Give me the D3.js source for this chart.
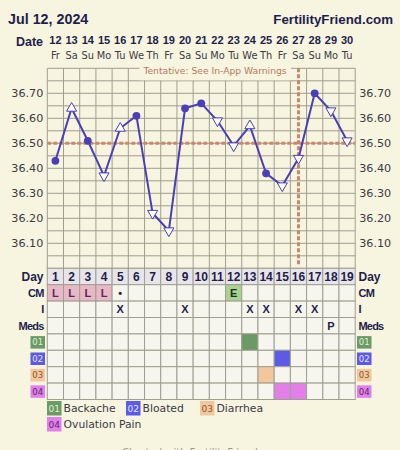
<!DOCTYPE html>
<html><head><meta charset="utf-8">
<script src="https://cdn.jsdelivr.net/npm/d3@7"></script>
<style>html,body{margin:0;padding:0;background:#f7f4df;} svg{display:block}</style>
</head><body><svg id="c" width="400" height="450"></svg>
<script>
// ---------- data ----------
const cycleDays = [1,2,3,4,5,6,7,8,9,10,11,12,13,14,15,16,17,18,19];
const dates = [12,13,14,15,16,17,18,19,20,21,22,23,24,25,26,27,28,29,30];
const weekdays = ["Fr","Sa","Su","Mo","Tu","We","Th","Fr","Sa","Su","Mo","Tu","We","Th","Fr","Sa","Su","Mo","Tu"];
const temps = [36.43,36.64,36.51,36.37,36.56,36.61,36.22,36.15,36.64,36.66,36.59,36.49,36.57,36.38,36.33,36.44,36.70,36.63,36.51];
const markers = ["dot","up","dot","down","up","dot","down","down","dot","dot","down","down","up","dot","down","down","dot","down","down"];
const yTicks = [36.10,36.20,36.30,36.40,36.50,36.60,36.70];
const coverline = 36.50;
const ovulationDay = 16;
const cmValues = ["L","L","L","L","•","","","","","","","E","","","","","","",""];
const intercourse = ["","","","","X","","","","X","","","","X","X","","X","X","",""];
const medsValues = ["","","","","","","","","","","","","","","","","","P",""];
const symptomCodes = ["01","02","03","04"];
const symptomNames = ["Backache","Bloated","Diarrhea","Ovulation Pain"];
const symptomDays = [[13],[15],[14],[15,16]];
const titleText = "Jul 12, 2024";
const siteText = "FertilityFriend.com";
const noteText = "Tentative: See In-App Warnings";

// ---------- styles ----------
const navy = "#1e1e4e";
const lineCol = "#4a3fb6";
const dashCol = "#c9876c";
const gridCol = "#9f9f90";
const symptomFill = ["#6b9b64","#5b5be8","#f2c79b","#e27fe9"];
const symptomText = ["#dff0da","#e4e4ff","#8a5a35","#5a2a6a"];
const bold = "'Liberation Sans', Arial, sans-serif";
const reg = "'DejaVu Sans', Verdana, sans-serif";

const svg = d3.select("#c");
const x = d3.scaleBand().domain(cycleDays).range([47.3, 355.2]).padding(0);
const y = d3.scaleLinear().domain([36.0, 36.8]).range([268.3, 68.3]);
const cx = d => x(d) + x.bandwidth()/2;

svg.append("rect").attr("width",400).attr("height",450).attr("fill","#f7f4df");

// header
svg.append("text").attr("x",8).attr("y",24).attr("font-family",bold).attr("font-weight","bold")
  .attr("font-size",14.3).attr("fill",navy).text(titleText);
svg.append("text").attr("x",393).attr("y",24).attr("text-anchor","end").attr("font-family",bold)
  .attr("font-weight","bold").attr("font-size",13.3).attr("fill",navy).text(siteText);
svg.append("text").attr("x",43).attr("y",46).attr("text-anchor","end").attr("font-family",bold)
  .attr("font-weight","bold").attr("font-size",12.5).attr("fill",navy).text("Date");
svg.append("g").selectAll("text").data(cycleDays).join("text")
  .attr("x",cx).attr("y",43.5).attr("text-anchor","middle").attr("font-family",bold)
  .attr("font-weight","bold").attr("font-size",11).attr("fill",navy).text((d,i)=>dates[i]);
svg.append("g").selectAll("text").data(cycleDays).join("text")
  .attr("x",cx).attr("y",59).attr("text-anchor","middle").attr("font-family",reg)
  .attr("font-size",9.8).attr("fill","#3a3a48").text((d,i)=>weekdays[i]);

// chart grid
const gridG = svg.append("g");
const hLines = d3.range(0,17).map(i => 36.0 + i*0.05);
gridG.selectAll("line.h").data(hLines).join("line")
  .attr("x1",x.range()[0]).attr("x2",x.range()[1]).attr("y1",d=>y(d)).attr("y2",d=>y(d))
  .attr("stroke",gridCol).attr("stroke-width",1);
const vBounds = cycleDays.map(d=>x(d)).concat([x.range()[1]]);
gridG.selectAll("line.v").data(vBounds).join("line")
  .attr("x1",d=>d).attr("x2",d=>d).attr("y1",y(36.8)).attr("y2",y(36.0))
  .attr("stroke",gridCol).attr("stroke-width",1);

// axes
const axL = svg.append("g").attr("transform",`translate(${x.range()[0]},0)`)
  .call(d3.axisLeft(y).tickValues(yTicks).tickFormat(d3.format(".2f")).tickSize(0).tickPadding(4));
const axR = svg.append("g").attr("transform",`translate(${x.range()[1]},0)`)
  .call(d3.axisRight(y).tickValues(yTicks).tickFormat(d3.format(".2f")).tickSize(0).tickPadding(4));
[axL,axR].forEach(a=>{a.select(".domain").remove();
  a.selectAll("text").attr("font-family",reg).attr("font-size",11.2).attr("fill","#3a3a48");});

// tentative note
svg.append("rect").attr("x",139.5).attr("y",61).attr("width",151.5).attr("height",19.3).attr("fill","#f7f4df");
svg.append("text").attr("x",215).attr("y",74).attr("text-anchor","middle").attr("font-family",reg)
  .attr("font-size",9.2).attr("fill","#b7795f").text(noteText);

// coverline & ovulation line
svg.append("line").attr("x1",x.range()[0]).attr("x2",x.range()[1]).attr("y1",y(coverline)).attr("y2",y(coverline))
  .attr("stroke",dashCol).attr("stroke-width",3).attr("stroke-dasharray","4,2");
svg.append("line").attr("x1",cx(ovulationDay)).attr("x2",cx(ovulationDay)).attr("y1",y(36.8)).attr("y2",y(36.0)-2)
  .attr("stroke",dashCol).attr("stroke-width",3).attr("stroke-dasharray","4,2");

// temperature line
const pts = cycleDays.map((d,i)=>({d, t:temps[i], m:markers[i]}));
svg.append("path").datum(pts)
  .attr("d", d3.line().x(p=>cx(p.d)).y(p=>y(p.t)))
  .attr("fill","none").attr("stroke",lineCol).attr("stroke-width",2);
const mk = svg.append("g");
mk.selectAll("circle").data(pts.filter(p=>p.m==="dot")).join("circle")
  .attr("cx",p=>cx(p.d)).attr("cy",p=>y(p.t)).attr("r",3.9).attr("fill",lineCol);
const tri = d3.symbol().type(d3.symbolTriangle).size(44);
mk.selectAll("path").data(pts.filter(p=>p.m!=="dot")).join("path")
  .attr("d",tri)
  .attr("transform",p=>`translate(${cx(p.d)},${y(p.t)}) rotate(${p.m==="down"?180:0})`)
  .attr("fill","#ffffff").attr("stroke",lineCol).attr("stroke-width",1);

// ---------- table ----------
const tTop = 268.3, rowH = 16.4;
const rows = ["Day","CM","I","Meds","01","02","03","04"];
const tbl = svg.append("g");
rows.forEach((r,ri)=>{
  const ry = tTop + ri*rowH;
  cycleDays.forEach((d,di)=>{
    let fill = "#f6f5ee";
    if (r==="Day") fill = "#e8e5ea";
    if (r==="CM" && cmValues[di]==="L") fill = "#e9b8c6";
    if (r==="CM" && cmValues[di]==="E") fill = "#a9d48f";
    const si = symptomCodes.indexOf(r);
    if (si>=0 && symptomDays[si].includes(d)) fill = symptomFill[si];
    tbl.append("rect").attr("x",x(d)).attr("y",ry).attr("width",x.bandwidth()).attr("height",rowH)
      .attr("fill",fill).attr("stroke",gridCol).attr("stroke-width",1);
    let txt = "", col = navy, fs = 11;
    if (r==="Day") { txt = d; fs = 12; }
    if (r==="CM") { txt = cmValues[di]; col = cmValues[di]==="L" ? "#5a2860" : "#1f2f1f"; }
    if (r==="I") txt = intercourse[di];
    if (r==="Meds") txt = medsValues[di];
    if (txt!=="") tbl.append("text").attr("x",cx(d)).attr("y",ry+rowH/2+4).attr("text-anchor","middle")
      .attr("font-family",bold).attr("font-weight","bold").attr("font-size",fs).attr("fill",col).text(txt);
  });
  const si = symptomCodes.indexOf(r);
  if (si<0) {
    tbl.append("text").attr("x",43.5).attr("y",ry+rowH/2+4).attr("text-anchor","end")
      .attr("font-family",bold).attr("font-weight","bold").attr("font-size",r==="Day"?12:11)
      .attr("letter-spacing",r==="Day"?0:-0.8).attr("fill",navy).text(r);
    tbl.append("text").attr("x",358.5).attr("y",ry+rowH/2+4).attr("text-anchor","start")
      .attr("font-family",bold).attr("font-weight","bold").attr("font-size",r==="Day"?12:11)
      .attr("letter-spacing",r==="Day"?0:-0.8).attr("fill",navy).text(r);
  } else {
    [30.5, 357].forEach(bx=>{
      tbl.append("rect").attr("x",bx).attr("y",ry+2.2).attr("width",14.5).attr("height",12.5).attr("fill",symptomFill[si]);
      tbl.append("text").attr("x",bx+7.25).attr("y",ry+rowH/2+3.3).attr("text-anchor","middle")
        .attr("font-family",reg).attr("font-size",8.5).attr("fill",symptomText[si]).text(r);
    });
  }
});

// ---------- legend ----------
const legPos = [[47,401],[126,401],[200,401],[47,417]];
const lg = svg.append("g");
symptomCodes.forEach((c,i)=>{
  const [lx,ly] = legPos[i];
  lg.append("rect").attr("x",lx).attr("y",ly).attr("width",14.5).attr("height",14.5).attr("fill",symptomFill[i]);
  lg.append("text").attr("x",lx+7.25).attr("y",ly+10.5).attr("text-anchor","middle").attr("font-family",reg)
    .attr("font-size",9).attr("fill",symptomText[i]).text(c);
  lg.append("text").attr("x",lx+16.5).attr("y",ly+11.3).attr("font-family",reg).attr("font-size",10.8)
    .attr("fill","#3a3a48").text(symptomNames[i]);
});

// footer (cut off at bottom edge, as in the reference)
svg.append("text").attr("x",190).attr("y",456).attr("text-anchor","middle").attr("font-family",reg)
  .attr("font-size",10).attr("fill","#9a9a94").text("Charted with FertilityFriend");
</script></body></html>
